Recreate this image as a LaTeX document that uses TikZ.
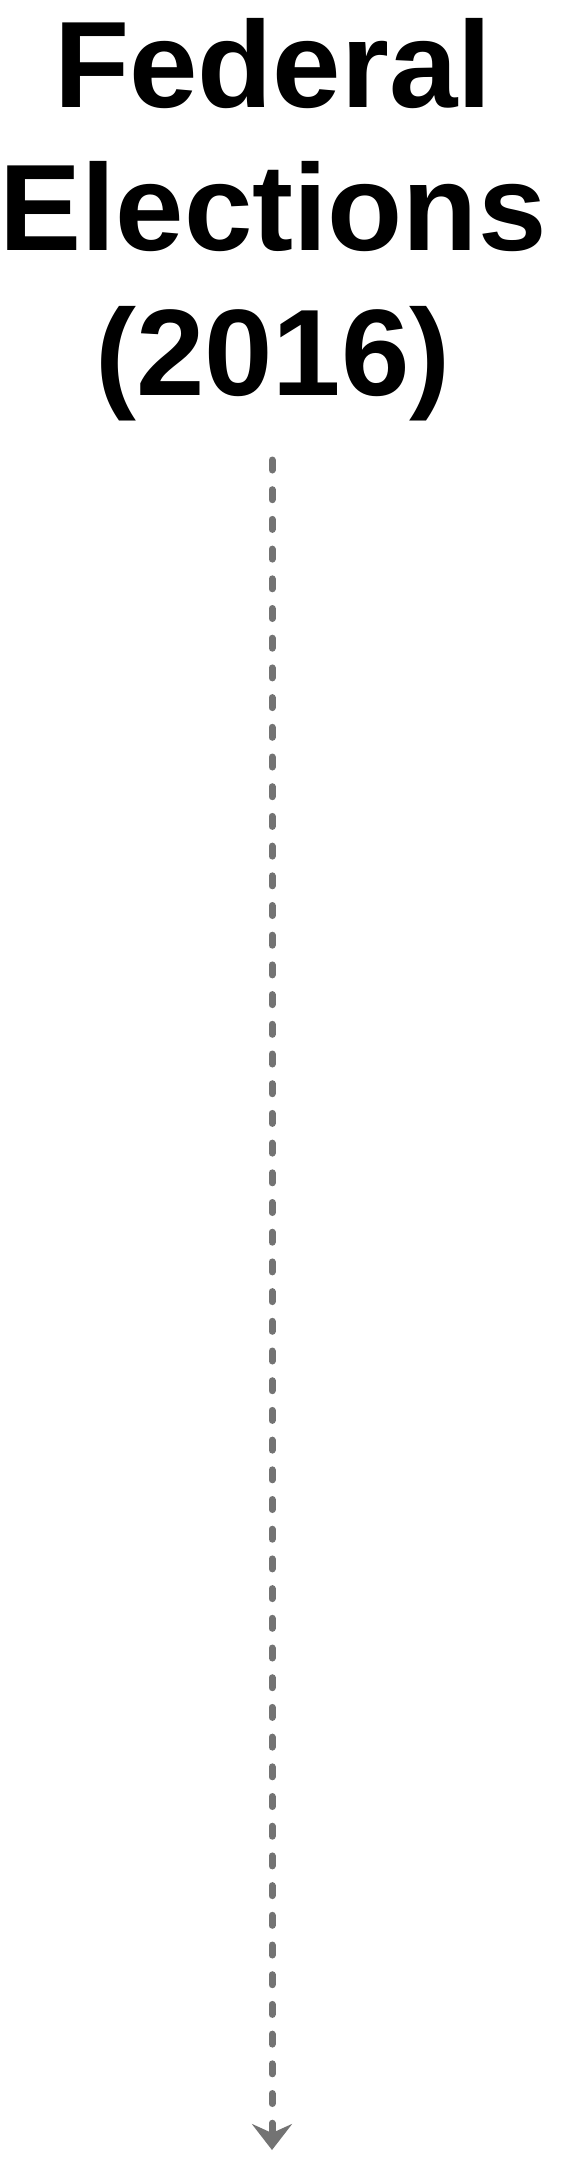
\documentclass[tikz,border=0pt]{standalone}
\usepackage{fontspec}
\setmainfont{Liberation Sans}
\usetikzlibrary{arrows.meta}
\definecolor{flowgray}{RGB}{115,115,115}
\begin{document}
\begin{tikzpicture}[x=1pt, y=-1pt, >={Stealth[length=26pt, width=40pt, inset=9pt]},
    titletext/.style={anchor=base, inner sep=0pt, font=\bfseries\fontsize{123}{144}\selectfont}]
      \useasboundingbox (0,0) rectangle (574,2161);
      \node[titletext] (fed) at (273,107) {Federal};
      \node[titletext] (elec) at (273,250) {Elections};
      \node[titletext] (year) at (273,395) {(2016)};
      \coordinate (start) at (272,460);
      \coordinate (stop) at (272,2150);
      \draw[->, flowgray, line width=7pt, line cap=round, dash pattern=on 10pt off 19.7pt] (start) -- (stop);
    \end{tikzpicture}
\end{document}
